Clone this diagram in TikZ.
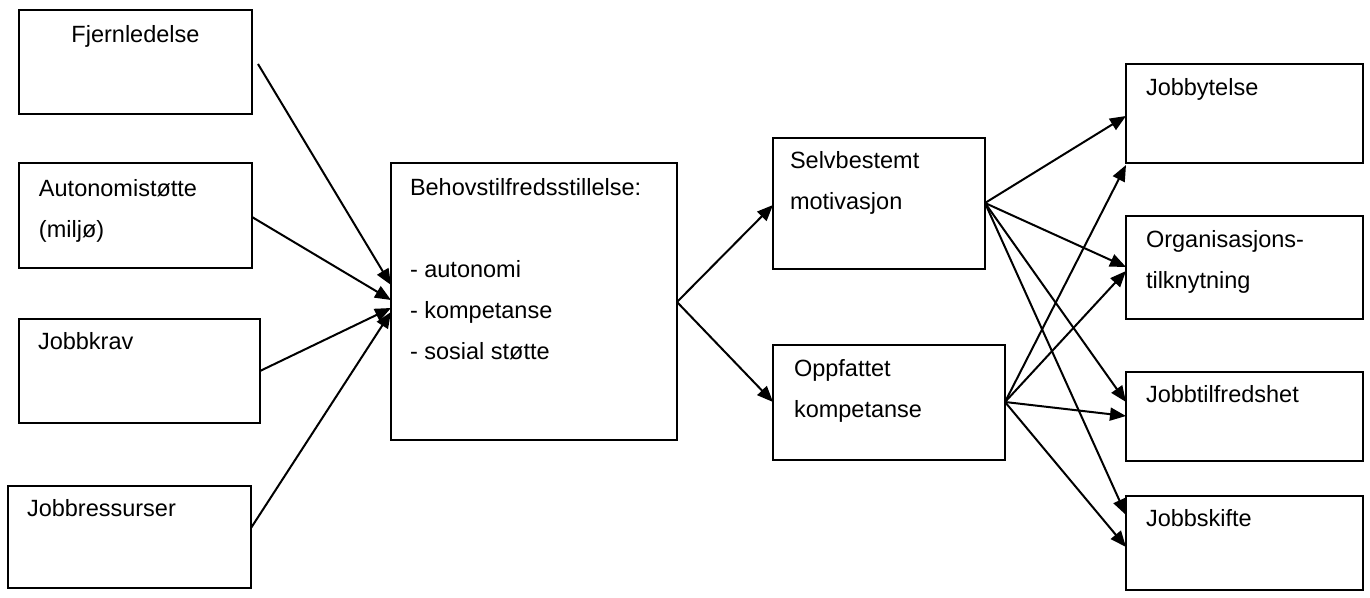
\documentclass[tikz,border=0pt]{standalone}
\usepackage{fontspec}
\setmainfont{Liberation Sans}
\usetikzlibrary{arrows.meta,calc}
\begin{document}
\begin{tikzpicture}[x=0.5pt,y=-0.5pt,
  box/.style={draw,line width=0.8pt,inner sep=0pt,outer sep=0pt,anchor=north west},
  lbl/.style={inner sep=0pt,outer sep=0pt,align=left,anchor=north west,font=\fontsize{11.75}{20.5}\selectfont},
  arr/.style={line width=1pt,-{Triangle[length=8pt,width=6.5pt]}}]
\useasboundingbox (0,0) rectangle (1370,598);
% boxes
\node[box,minimum width=116.5pt,minimum height=52pt] (fj) at (19,10) {};
\node[box,minimum width=116.5pt,minimum height=52.5pt] (au) at (19,163) {};
\node[box,minimum width=120.5pt,minimum height=52pt] (jk) at (19,319) {};
\node[box,minimum width=121.5pt,minimum height=51pt] (jr) at (8,486) {};
\node[box,minimum width=143pt,minimum height=138.5pt] (behov) at (391,163) {};
\node[box,minimum width=106pt,minimum height=65.5pt] (selv) at (773,138) {};
\node[box,minimum width=116pt,minimum height=57.5pt] (opp) at (773,345) {};
\node[box,minimum width=118.5pt,minimum height=49.5pt] (jy) at (1126,64) {};
\node[box,minimum width=118.5pt,minimum height=51.5pt] (org) at (1126,216) {};
\node[box,minimum width=118.5pt,minimum height=44.5pt] (jtf) at (1126,372) {};
\node[box,minimum width=118.5pt,minimum height=47pt] (jsk) at (1126,496) {};
% labels
\node[lbl,anchor=base] (tfj) at (135.5,43) {Fjernledelse};
\node[lbl] (tau) at (39,179) {Autonomistøtte\\(miljø)};
\node[lbl] (tjk) at (38,332) {Jobbkrav};
\node[lbl] (tjr) at (27,499) {Jobbressurser};
\node[lbl] (tbehov) at (410,178) {Behovstilfredsstillelse:\\[20.5pt]- autonomi\\- kompetanse\\- sosial støtte};
\node[lbl] (tselv) at (790,151) {Selvbestemt\\motivasjon};
\node[lbl] (topp) at (794,359) {Oppfattet\\kompetanse};
\node[lbl] (tjy) at (1146,78) {Jobbytelse};
\node[lbl] (torg) at (1146,230) {Organisasjons-\\tilknytning};
\node[lbl] (tjtf) at (1146,385) {Jobbtilfredshet};
\node[lbl] (tjsk) at (1146,509) {Jobbskifte};
% arrows into behov
\draw[arr] ($(fj.north east)+(6,54)$) -- ($(behov.north west)+(0,122)$);
\draw[arr] ($(au.north east)+(0,54)$) -- ($(behov.north west)+(0,137)$);
\draw[arr] ($(jk.north east)+(0,52)$) -- ($(behov.north west)+(0,145)$);
\draw[arr] ($(jr.north east)+(0,42)$) -- ($(behov.north west)+(0,149)$);
% behov out
\draw[arr] ($(behov.north east)+(0,139)$) -- ($(selv.north west)+(0,67)$);
\draw[arr] ($(behov.north east)+(0,139)$) -- ($(opp.north west)+(0,57)$);
% selv out
\draw[arr] ($(selv.north east)+(0,65)$) -- ($(jy.north west)+(0,52)$);
\draw[arr] ($(selv.north east)+(0,65)$) -- ($(org.north west)+(0,51)$);
\draw[arr] ($(selv.north east)+(0,65)$) -- ($(jtf.north west)+(0,30)$);
\draw[arr] ($(selv.north east)+(0,65)$) -- ($(jsk.north west)+(0,19)$);
% opp out
\draw[arr] ($(opp.north east)+(0,57)$) -- ($(jy.north west)+(0,101)$);
\draw[arr] ($(opp.north east)+(0,57)$) -- ($(org.north west)+(0,55)$);
\draw[arr] ($(opp.north east)+(0,57)$) -- ($(jtf.north west)+(0,44)$);
\draw[arr] ($(opp.north east)+(0,57)$) -- ($(jsk.north west)+(0,51)$);
\end{tikzpicture}
\end{document}
